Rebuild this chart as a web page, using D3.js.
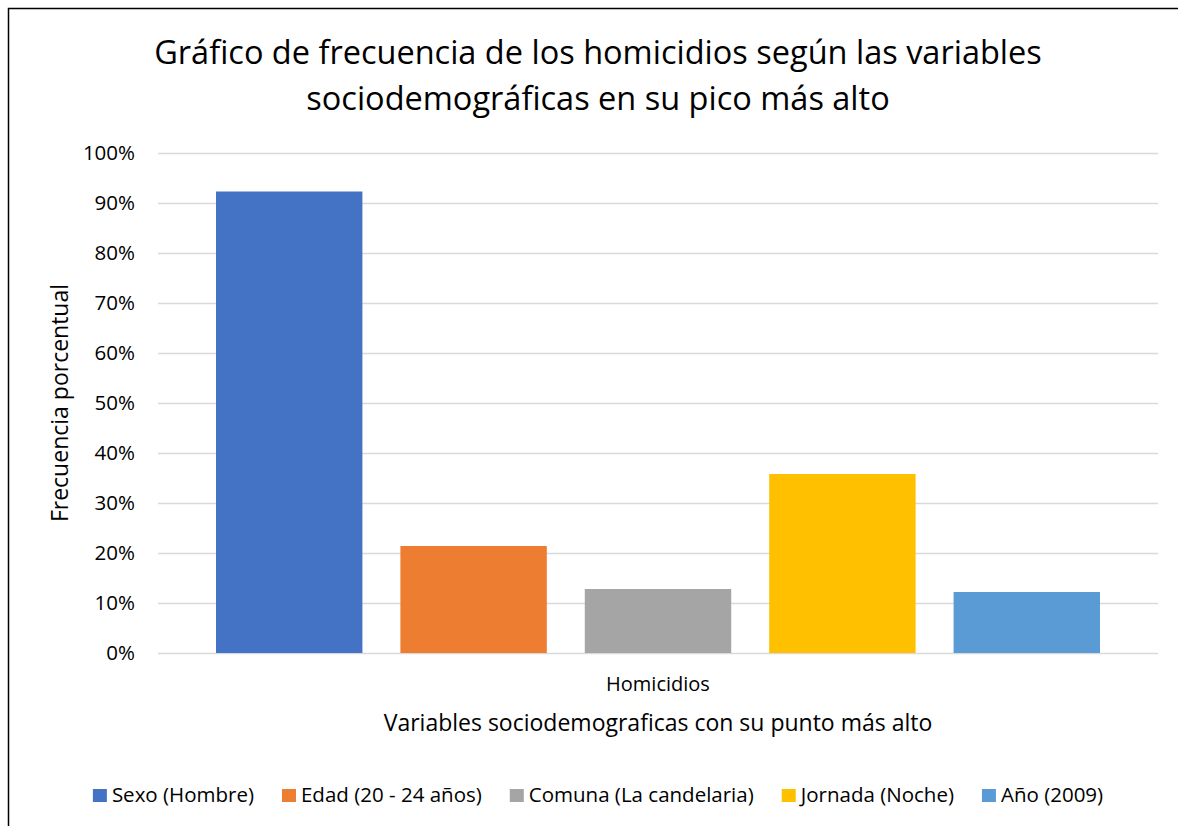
<!DOCTYPE html>
<html>
<head>
<meta charset="utf-8">
<script src="https://cdn.jsdelivr.net/npm/d3@7"></script>
<style>
  body { margin: 0; background: #fff; }
  svg text { font-family: "Open Sans", Lato, sans-serif; fill: #000; }
</style>
</head>
<body>
<svg id="chart"></svg>
<script>
// Data
var category = "Homicidios";
var seriesNames = ["Sexo (Hombre)", "Edad (20 - 24 años)", "Comuna (La candelaria)", "Jornada (Noche)", "Año (2009)"];
var seriesValues = [0.923, 0.214, 0.128, 0.358, 0.122];
var seriesColors = ["#4472C4", "#ED7D31", "#A5A5A5", "#FFC000", "#5B9BD5"];
var yTicks = [0, 0.1, 0.2, 0.3, 0.4, 0.5, 0.6, 0.7, 0.8, 0.9, 1];

var width = 1178, height = 826;
var plot = { left: 158, right: 1158, top: 153, bottom: 653 };
var centerX = 598;

var svg = d3.select('#chart')
    .attr('width', width)
    .attr('height', height);

// chart border (runs off the right and bottom edges)
svg.append('rect')
    .attr('x', 8.5).attr('y', 8.5)
    .attr('width', 1300).attr('height', 1000)
    .attr('fill', 'none')
    .attr('stroke', '#000')
    .attr('stroke-width', 1.5);

// Title
var title = svg.append('text')
    .attr('text-anchor', 'middle')
    .style('font-size', '32.5px');
title.append('tspan').attr('x', centerX).attr('y', 64).text('Gráfico de frecuencia de los homicidios según las variables');
title.append('tspan').attr('x', centerX).attr('y', 110).text('sociodemográficas en su pico más alto');

// Scales
var y = d3.scaleLinear().domain([0, 1]).range([plot.bottom, plot.top]);
var x0 = d3.scaleBand().domain([category]).range([plot.left, plot.right]);
var x1 = d3.scaleBand().domain(seriesNames)
    .range([39, x0.bandwidth() - 39])
    .paddingInner(0.206)
    .paddingOuter(0.103);

// Gridlines + tick labels
var yAxis = d3.axisLeft(y)
    .tickValues(yTicks)
    .tickFormat(d3.format('.0%'))
    .tickSize(-(plot.right - plot.left))
    .tickPadding(23);

var gy = svg.append('g')
    .attr('transform', 'translate(' + plot.left + ',0)')
    .call(yAxis);
gy.select('.domain').remove();
gy.selectAll('.tick line').attr('stroke', '#D9D9D9').attr('stroke-width', 1.5);
gy.selectAll('.tick text').style('font-size', '20.5px').attr('fill', '#000');

// Bars
var group = svg.append('g')
    .attr('transform', 'translate(' + x0(category) + ',0)');

group.selectAll('rect')
    .data(seriesNames)
    .enter().append('rect')
    .attr('x', function (d) { return x1(d); })
    .attr('width', x1.bandwidth())
    .attr('y', function (d, i) { return y(seriesValues[i]); })
    .attr('height', function (d, i) { return y(0) - y(seriesValues[i]); })
    .attr('fill', function (d, i) { return seriesColors[i]; });

// Category label
svg.append('text')
    .attr('x', x0(category) + x0.bandwidth() / 2)
    .attr('y', 691)
    .attr('text-anchor', 'middle')
    .style('font-size', '20px')
    .text(category);

// Axis titles
svg.append('text')
    .attr('x', x0(category) + x0.bandwidth() / 2)
    .attr('y', 731)
    .attr('text-anchor', 'middle')
    .style('font-size', '23px')
    .text('Variables sociodemograficas con su punto más alto');

svg.append('text')
    .attr('transform', 'translate(68,403)rotate(-90)')
    .attr('text-anchor', 'middle')
    .style('font-size', '23px')
    .text('Frecuencia porcentual');

// Legend
var legend = svg.append('g');
var items = legend.selectAll('g.item')
    .data(seriesNames)
    .enter().append('g').attr('class', 'item');

items.append('rect')
    .attr('width', 14).attr('height', 13)
    .attr('y', -13)
    .attr('fill', function (d, i) { return seriesColors[i]; });

items.append('text')
    .attr('x', 19)
    .attr('y', 0)
    .style('font-size', '20.5px')
    .text(function (d) { return d; });

var xpos = 0, gap = 28, offsets = [];
items.each(function () {
    offsets.push(xpos);
    xpos += 19 + d3.select(this).select('text').node().getComputedTextLength() + gap;
});
var total = xpos - gap;
var startX = centerX - total / 2;
items.attr('transform', function (d, i) { return 'translate(' + (startX + offsets[i]) + ',802)'; });
</script>
</body>
</html>
